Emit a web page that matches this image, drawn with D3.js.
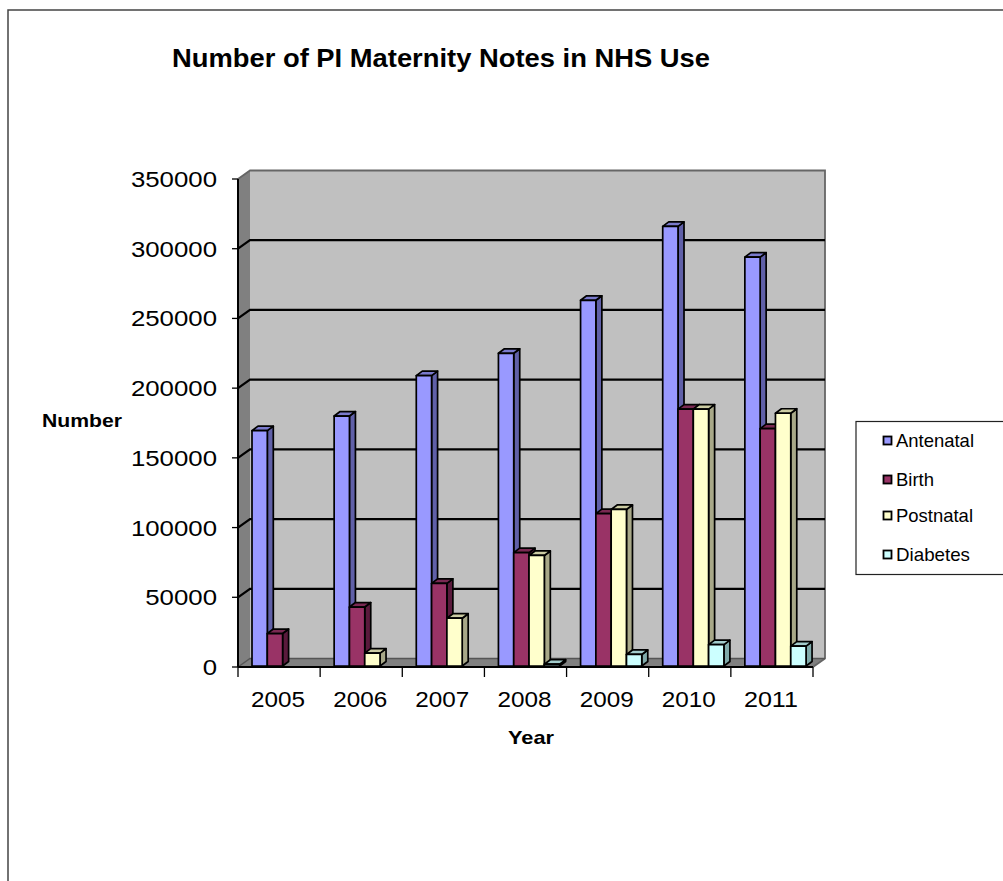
<!DOCTYPE html>
<html><head><meta charset="utf-8">
<script src="https://cdn.jsdelivr.net/npm/d3@7"></script>
<style>html,body{margin:0;padding:0;background:#fff}svg{display:block}text{font-family:"Liberation Sans",Arial,sans-serif;fill:#000}</style>
</head><body><svg id="c" width="1003" height="881"></svg>
<script>
const years=["2005","2006","2007","2008","2009","2010","2011"];
const seriesNames=["Antenatal","Birth","Postnatal","Diabetes"];
const antenatal=[169500,180000,209000,225000,263000,316000,294000];
const birth=[24000,43000,60000,82000,110000,185000,171000];
const postnatal=[null,10000,35000,80000,113000,185000,182000];
const diabetes=[null,null,null,2000,9000,16000,15000];
const values=[antenatal,birth,postnatal,diabetes];
const frontColors=["#9999FF","#993366","#FFFFCC","#CCFFFF"];
const sideColors=["#6060A8","#5A1A3C","#A8A888","#80AAAA"];
const topColors=["#7A7ACC","#7A2952","#CCCCA3","#A3CCCC"];
const yTicks=[0,50000,100000,150000,200000,250000,300000,350000];

const svg=d3.select("#c");
const y=d3.scaleLinear().domain([0,350000]).range([667,179]);
const x=d3.scaleBand().domain(years).range([238,813]);
const dx=12,dy=-8.5,bdx=6,bdy=-4.5;
const barW=15.3,barOff=14;

function stretched(sel,len){return sel.attr("textLength",len).attr("lengthAdjust","spacingAndGlyphs");}

// frame
svg.append("path").attr("d","M8,881V10H1003").attr("fill","none").attr("stroke","#444").attr("stroke-width",1.5);

// walls
const x0=x.range()[0],x1=x.range()[1];
const yTop=y(350000),yBot=y(0);
svg.append("polygon").attr("points",[[x0,yBot],[x0,yTop],[x0+dx,yTop+dy],[x0+dx,yBot+dy]].join(" ")).attr("fill","#808080");
svg.append("polygon").attr("points",[[x0+dx,yTop+dy],[x1+dx,yTop+dy],[x1+dx,yBot+dy],[x0+dx,yBot+dy]].join(" ")).attr("fill","#C0C0C0");
svg.append("polygon").attr("points",[[x0,yBot],[x0+dx,yBot+dy],[x1+dx,yBot+dy],[x1,yBot]].join(" ")).attr("fill","#808080");
svg.append("path").attr("d",`M${x0},${yTop}L${x0+dx},${yTop+dy}H${x1+dx}V${yBot+dy}L${x1},${yBot}`).attr("fill","none").attr("stroke","#666").attr("stroke-width",1.8);

// gridlines
yTicks.slice(1,-1).forEach(t=>{
  svg.append("path").attr("d",`M${x0},${y(t)}L${x0+dx},${y(t)+dy}H${x1+dx}`).attr("fill","none").attr("stroke","#000").attr("stroke-width",2.2);
});
svg.append("path").attr("d",`M${x0},${yBot}L${x0+dx},${yBot+dy}H${x1+dx}`).attr("fill","none").attr("stroke","#555").attr("stroke-width",1.5);

// bars
const base=y(0)-1;
years.forEach((yr,i)=>{
  values.forEach((vals,s)=>{
    const v=vals[i];
    if(v==null) return;
    const l=x(yr)+barOff+s*barW,r=l+barW,t=y(v);
    const g=svg.append("g").attr("stroke","#000").attr("stroke-width",1.7).attr("stroke-linejoin","round");
    g.append("polygon").attr("points",[[r,t],[r+bdx,t+bdy],[r+bdx,base+bdy],[r,base]].join(" ")).attr("fill",sideColors[s]);
    g.append("polygon").attr("points",[[l,t],[l+bdx,t+bdy],[r+bdx,t+bdy],[r,t]].join(" ")).attr("fill",topColors[s]);
    g.append("rect").attr("x",l).attr("y",t).attr("width",barW).attr("height",Math.max(base-t,0)).attr("fill",frontColors[s]);
  });
});

// axes
const yAxis=svg.append("g").attr("transform",`translate(${x0},0)`);
yAxis.append("line").attr("y1",yTop).attr("y2",yBot).attr("stroke","#000").attr("stroke-width",2);
yTicks.forEach(t=>{
  yAxis.append("line").attr("x1",-6).attr("x2",0).attr("y1",y(t)).attr("y2",y(t)).attr("stroke","#000").attr("stroke-width",1.3);
  const label=String(t);
  stretched(yAxis.append("text").attr("x",-21).attr("y",y(t)+8).attr("text-anchor","end").attr("font-size",22).text(label),label.length*14.35);
});
svg.append("line").attr("x1",x0).attr("x2",x1).attr("y1",yBot).attr("y2",yBot).attr("stroke","#000").attr("stroke-width",2);
[...years.map(d=>x(d)),x1].forEach(px=>{
  svg.append("line").attr("x1",px).attr("x2",px).attr("y1",yBot).attr("y2",yBot+10).attr("stroke","#000").attr("stroke-width",1.3);
});
years.forEach(d=>{
  stretched(svg.append("text").attr("x",x(d)+x.bandwidth()/2-1).attr("y",707).attr("text-anchor","middle").attr("font-size",22).text(d),54);
});

// titles
stretched(svg.append("text").attr("x",441).attr("y",67).attr("text-anchor","middle").attr("font-size",25).attr("font-weight","bold").text("Number of PI Maternity Notes in NHS Use"),538);
stretched(svg.append("text").attr("x",82).attr("y",427).attr("text-anchor","middle").attr("font-size",19).attr("font-weight","bold").text("Number"),80);
stretched(svg.append("text").attr("x",531).attr("y",744).attr("text-anchor","middle").attr("font-size",19).attr("font-weight","bold").text("Year"),46);

// legend
const lg=svg.append("g");
lg.append("rect").attr("x",856).attr("y",421.5).attr("width",160).attr("height",153).attr("fill","#fff").attr("stroke","#222").attr("stroke-width",1.2);
const legendRows=[441,480,516,555];
const legendWidths=[78,38,77,74];
seriesNames.forEach((n,i)=>{
  lg.append("rect").attr("x",883.5).attr("y",legendRows[i]-4.5).attr("width",8).attr("height",8).attr("fill",frontColors[i]).attr("stroke","#000").attr("stroke-width",1.8);
  stretched(lg.append("text").attr("x",896).attr("y",legendRows[i]+6).attr("font-size",19).attr("fill","#222").text(n),legendWidths[i]);
});
</script></body></html>
